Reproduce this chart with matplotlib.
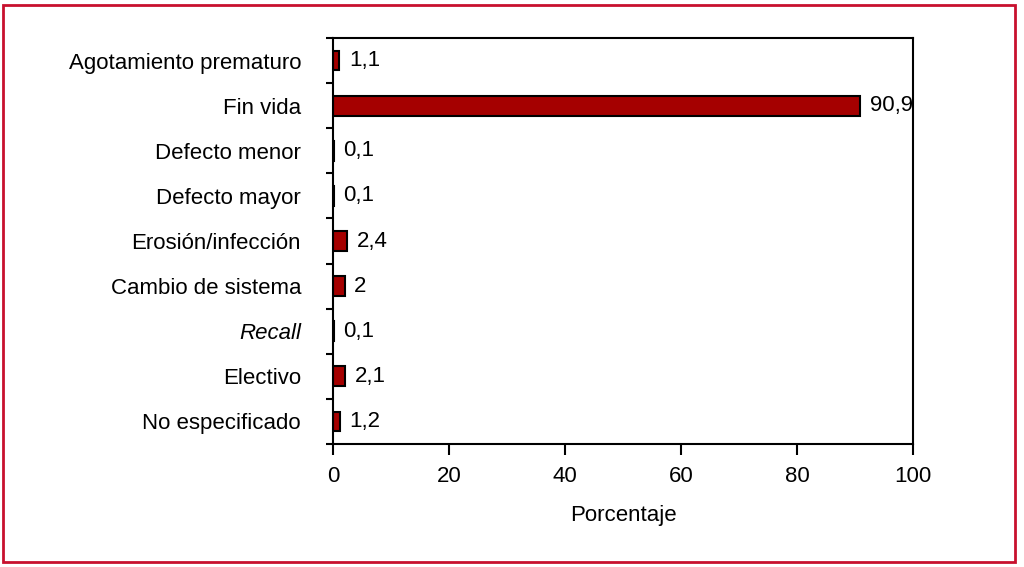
import matplotlib
matplotlib.use("Agg")
import matplotlib.pyplot as plt
from matplotlib.patches import Rectangle
from matplotlib.ticker import FixedLocator

plt.rcParams['font.family'] = ['Liberation Sans', 'DejaVu Sans']

categories = ["Agotamiento prematuro", "Fin vida", "Defecto menor", "Defecto mayor",
              "Erosión/infección", "Cambio de sistema", "Recall", "Electivo", "No especificado"]
values = [1.1, 90.9, 0.1, 0.1, 2.4, 2.0, 0.1, 2.1, 1.2]
value_labels = ["1,1", "90,9", "0,1", "0,1", "2,4", "2", "0,1", "2,1", "1,2"]
xticks = [0, 20, 40, 60, 80, 100]

FS = 16
fig = plt.figure(figsize=(10.24, 5.67), dpi=100)
ax = fig.add_axes([333/1024, 1-444/567, (913-333)/1024, (444-38)/567])

pos = list(range(len(categories)))
ax.barh(pos, values, height=0.44, color="#A50000", edgecolor="black", linewidth=1.5, zorder=1)
for p, v, lab in zip(pos, values, value_labels):
    ax.annotate(lab, (v, p), xytext=(7, 0), textcoords="offset points",
                va="center", ha="left", fontsize=FS)

ax.set_xlim(0, 100)
ax.set_ylim(len(categories)-0.5, -0.5)
ax.set_xticks(xticks)
ax.set_xticklabels([str(t) for t in xticks], fontsize=FS)
ax.set_yticks(pos)
ax.set_yticklabels(categories, fontsize=FS)
for lbl in ax.get_yticklabels():
    if lbl.get_text() == "Recall":
        lbl.set_style("italic")
ax.yaxis.set_minor_locator(FixedLocator([i + 0.5 for i in range(-1, len(categories))]))
ax.tick_params(axis='y', which='major', length=0, pad=23)
ax.tick_params(axis='y', which='minor', length=5, width=1.5, direction='out')
ax.tick_params(axis='x', which='major', length=8, width=1.5, direction='out', pad=8)
for s in ax.spines.values():
    s.set_linewidth(1.5)
    s.set_zorder(3)
ax.set_xlabel("Porcentaje", fontsize=FS, labelpad=13)

fig.patches.append(Rectangle((3/1024, 5/567), 1012/1024, 557/567, transform=fig.transFigure,
                             fill=False, edgecolor="#C8102E", linewidth=2))

fig.savefig("out.png", dpi=100)
